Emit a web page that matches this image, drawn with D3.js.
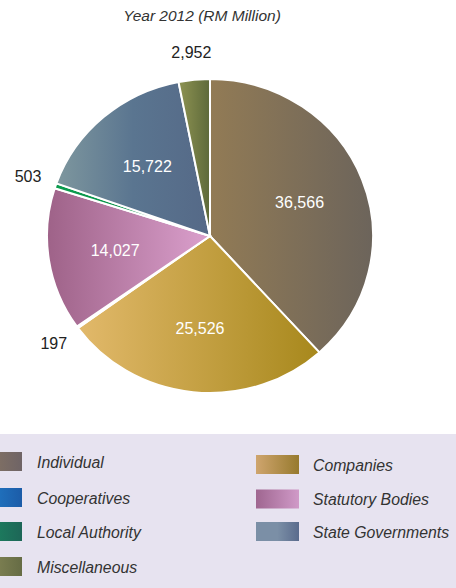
<!DOCTYPE html>
<html>
<head>
<style>
  body { margin: 0; background: #fff; }
  svg { display: block; font-family: "Liberation Sans", Arial, sans-serif; }
</style>
</head>
<body>
<svg width="456" height="588"></svg>
<script src="https://cdn.jsdelivr.net/npm/d3@7"></script>
<script>
    // slice order as drawn, clockwise from 12 o'clock
    const categories = ["Individual", "Companies", "Cooperatives", "Statutory Bodies",
        "Local Authority", "State Governments", "Miscellaneous"];
    const values = [36566, 25526, 197, 14027, 503, 15722, 2952];
    const title = "Year 2012 (RM Million)";

    // gradient colours (left -> right) for slices and legend swatches
    const sliceColors = [
        ["#927b55", "#6c645b"],
        ["#e2b96b", "#a7881c"],
        ["#1f7ac6", "#1b5ea6"],
        ["#9e6288", "#dba0cd"],
        ["#0b9c4e", "#0a8a46"],
        ["#7e979e", "#5a7590", "#556987"],
        ["#8e9352", "#5d693a"]
    ];
    const legendColors = [
        ["#8a7762", "#6f6466"],
        ["#cfa56e", "#977a2e"],
        ["#2280cc", "#1c5ca8"],
        ["#9f6690", "#d09ac8"],
        ["#1c8a62", "#1d6657"],
        ["#7b8fa6", "#7b8fa6", "#5a6b8d"],
        ["#8c8c5a", "#666c45"]
    ];
    const legendLeft = ["Individual", "Cooperatives", "Local Authority", "Miscellaneous"];
    const legendRight = ["Companies", "Statutory Bodies", "State Governments"];

    const svg = d3.select("svg"),
        width = +svg.attr("width"),
        cx = 210, cy = 236,
        radius = 163,
        squash = 0.963;

    const defs = svg.append("defs");
    function addGrad(id, stops) {
        const g = defs.append("linearGradient").attr("id", id)
            .attr("x1", 0).attr("x2", 1).attr("y1", 0).attr("y2", 0);
        stops.forEach(function(c, i) {
            g.append("stop").attr("offset", i / (stops.length - 1)).attr("stop-color", c);
        });
    }
    sliceColors.forEach(function(s, i) { addGrad("sg" + i, s); });
    legendColors.forEach(function(s, i) { addGrad("lg" + i, s); });

    svg.append("text")
        .attr("x", 202).attr("y", 21)
        .attr("text-anchor", "middle")
        .attr("font-size", 15.5)
        .attr("font-style", "italic")
        .attr("fill", "#333")
        .text(title);

    const pie = d3.pie().sort(null).value(function(d) { return d; });
    const arcs = pie(values);
    const total = d3.sum(values);

    const path = d3.arc().outerRadius(radius).innerRadius(0);

    const g = svg.append("g")
        .attr("transform", "translate(" + cx + "," + cy + ") scale(1," + squash + ")");

    g.selectAll("path")
        .data(arcs)
        .enter().append("path")
        .attr("d", path)
        .attr("fill", function(d, i) { return "url(#sg" + i + ")"; })
        .attr("stroke", "#fff")
        .attr("stroke-width", 2);

    function pos(a, r) {
        return [cx + Math.sin(a) * r, cy - Math.cos(a) * r * squash];
    }

    svg.append("g").selectAll("text")
        .data(arcs)
        .enter().append("text")
        .each(function(d) {
            const mid = (d.startAngle + d.endAngle) / 2;
            const inside = d.value / total > 0.05;
            const p = pos(mid, inside ? 96 : 192);
            d3.select(this)
                .attr("x", p[0]).attr("y", p[1])
                .attr("dy", "0.35em")
                .attr("fill", inside ? "#fff" : "#222");
        })
        .attr("text-anchor", "middle")
        .attr("font-size", 16)
        .text(function(d) { return d3.format(",")(d.value); });

    // legend
    svg.append("rect")
        .attr("x", 0).attr("y", 434)
        .attr("width", width).attr("height", 154)
        .attr("fill", "#e7e3f0");

    const rowY = [462, 498, 532, 567];
    const lg = svg.append("g").attr("font-size", 15.8).attr("font-style", "italic").attr("fill", "#333");

    legendLeft.forEach(function(name, r) {
        const i = categories.indexOf(name);
        lg.append("rect").attr("x", -21).attr("y", rowY[r] - 10).attr("width", 43).attr("height", 19)
            .attr("fill", "url(#lg" + i + ")");
        lg.append("text").attr("x", 37).attr("y", rowY[r]).attr("dy", "0.35em").text(name);
    });
    legendRight.forEach(function(name, r) {
        const i = categories.indexOf(name);
        const y = rowY[r] + 3 - r * 1.5;
        lg.append("rect").attr("x", 256).attr("y", y - 10).attr("width", 43).attr("height", 19)
            .attr("fill", "url(#lg" + i + ")");
        lg.append("text").attr("x", 313).attr("y", y).attr("dy", "0.35em").text(name);
    });
</script>
</body>
</html>
